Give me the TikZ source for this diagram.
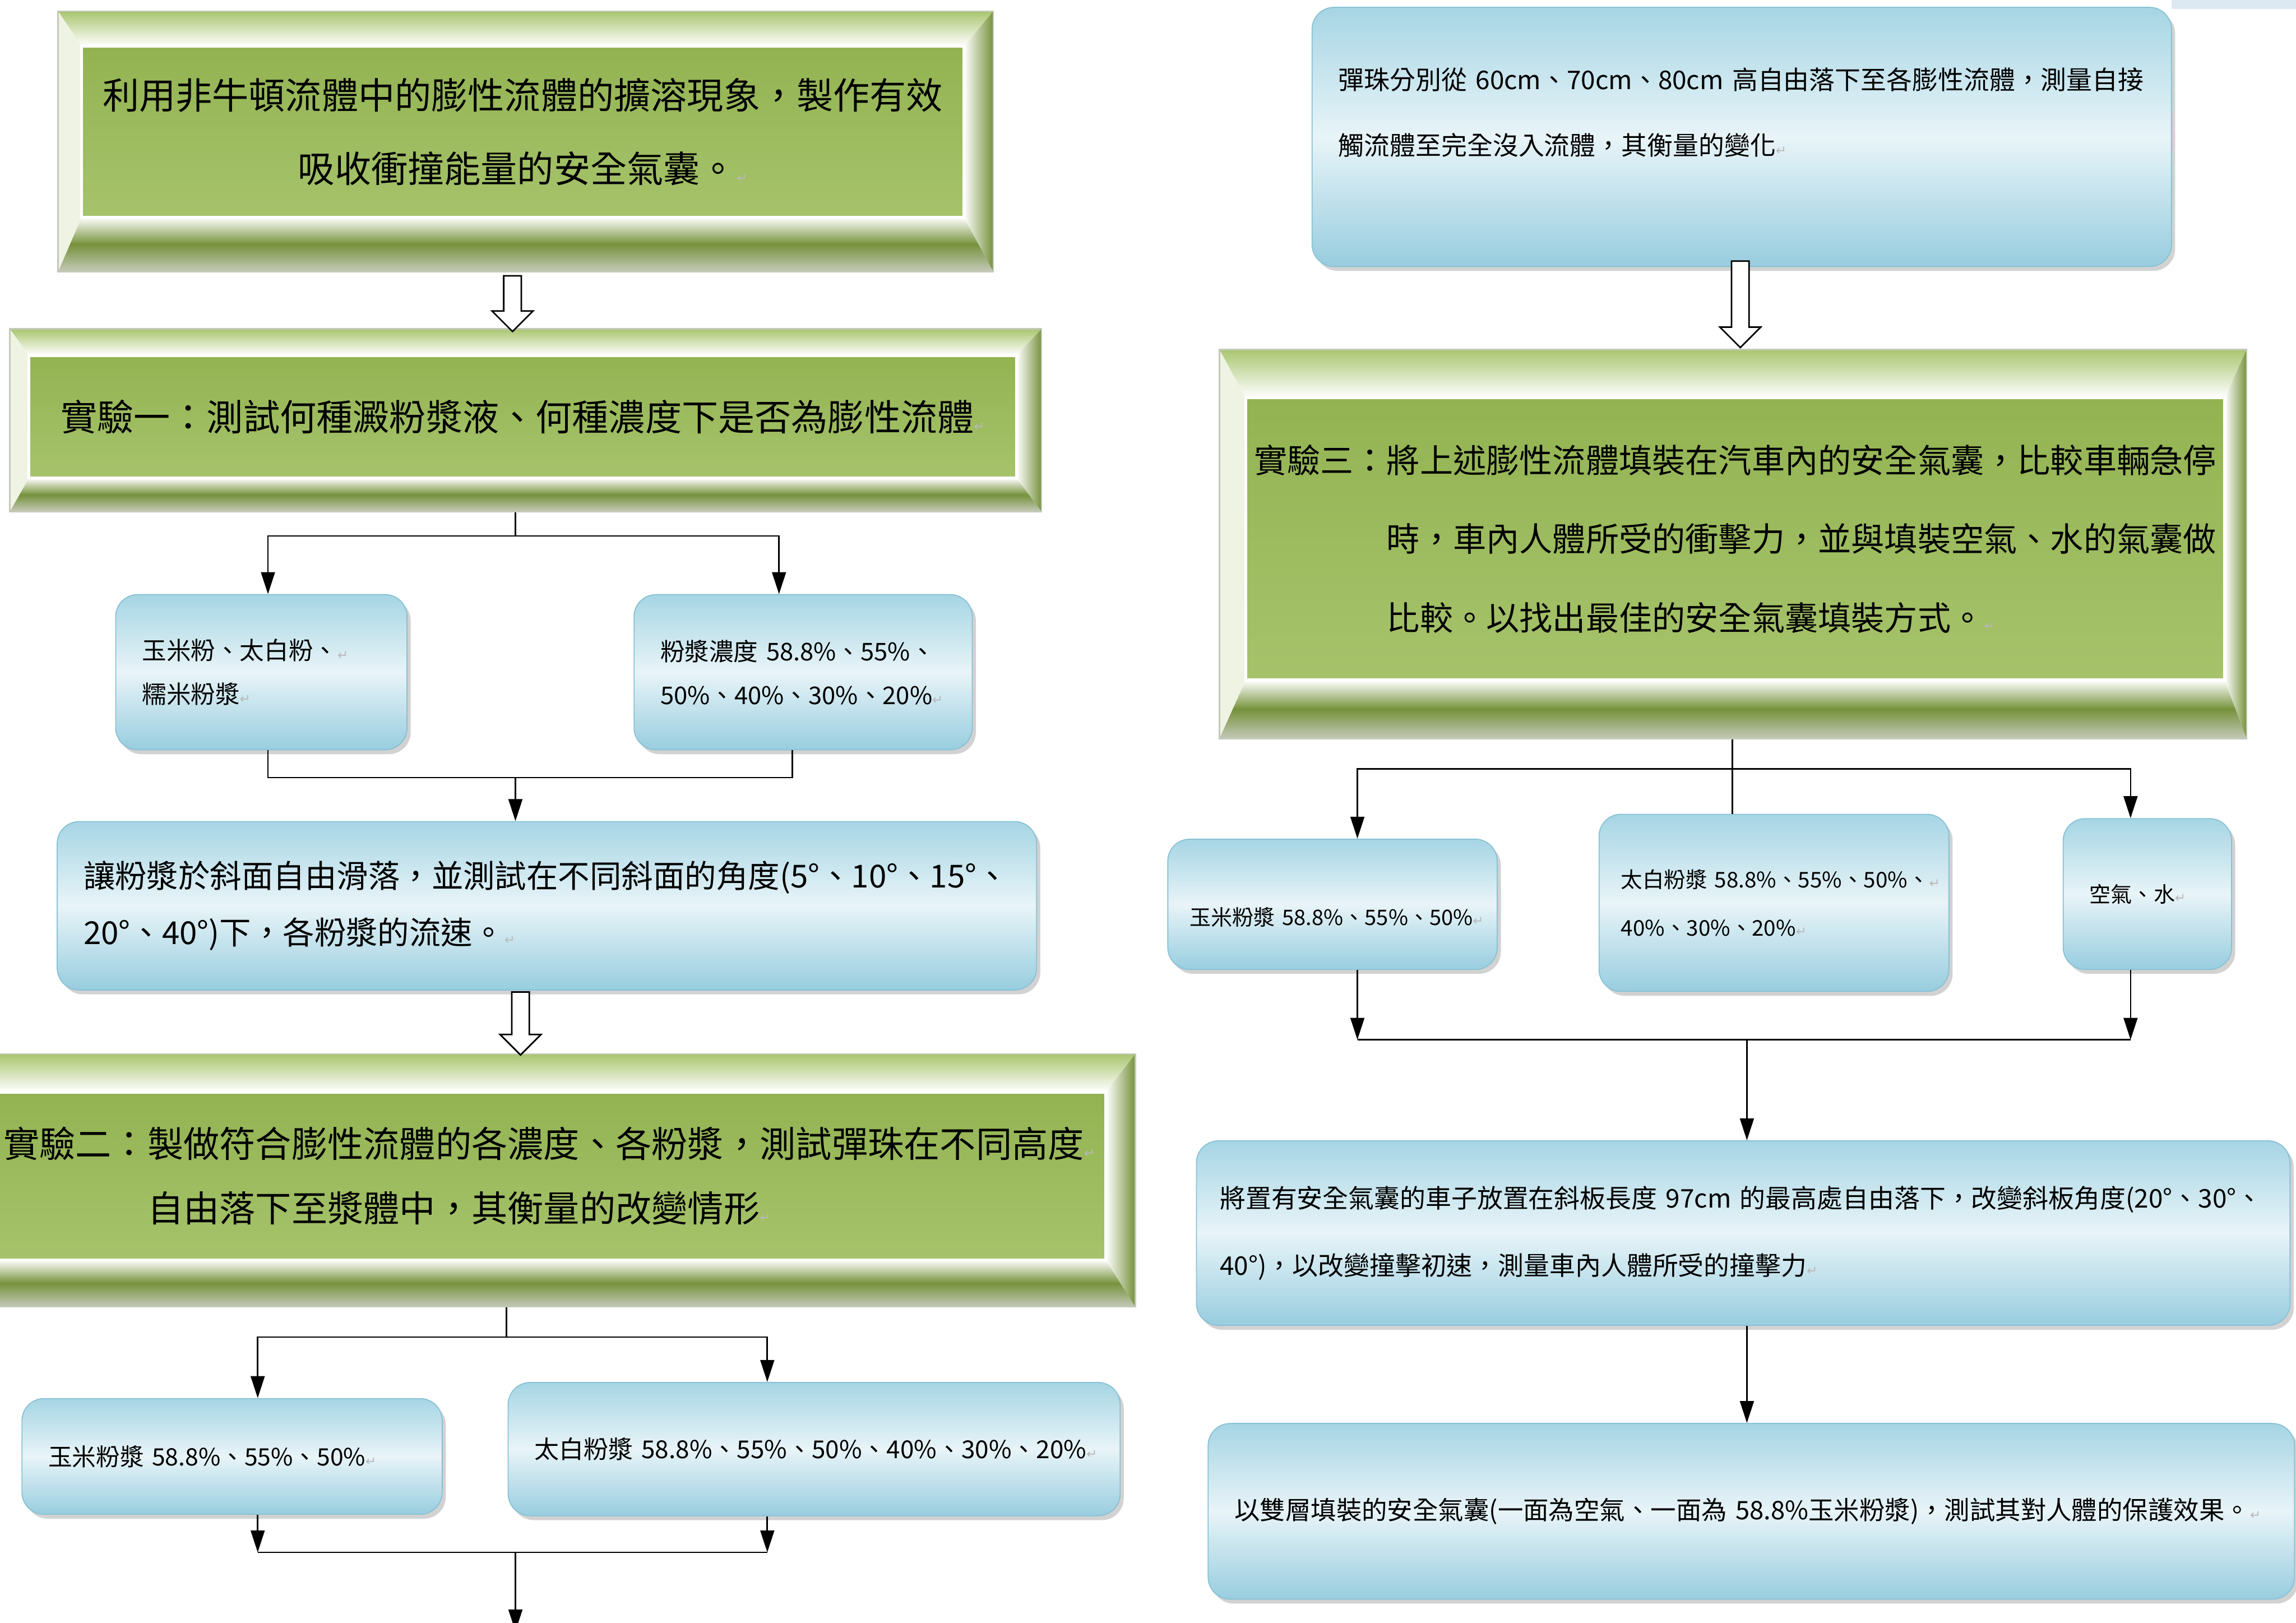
\documentclass[tikz,border=0pt]{standalone}
\usepackage{fontspec}
\setmainfont{Noto Sans CJK TC}
\newfontfamily\markfont{DejaVu Sans}
\usepackage{tikz}
\usetikzlibrary{arrows.meta,positioning,calc,shadows}

\definecolor{facetop}{HTML}{93B352}
\definecolor{facebot}{HTML}{A6C36B}
\definecolor{bevtop}{HTML}{A9C56F}
\definecolor{bevdark}{HTML}{76923C}
\definecolor{bevside}{HTML}{EEF3E3}
\definecolor{bevedge}{HTML}{C4C9B8}
\definecolor{pilltop}{HTML}{A6D5E4}
\definecolor{pillmid}{HTML}{E8F4F8}
\definecolor{pillbot}{HTML}{98CDDF}
\definecolor{pillrim}{HTML}{88C2D5}
\definecolor{stripblue}{HTML}{DCE9F3}

\newcommand\tsize[2]{\fontsize{#1}{#2}\selectfont}
% paragraph mark at the end of a line
\newcommand\pmark{{\markfont\fontsize{5pt}{5pt}\selectfont\color{gray!55}↵}}

% bevelled frame round a green face: node, left, top, right, bottom (in px units)
\newcommand\bevelframe[5]{%
  \shade[top color=bevtop, bottom color=white]
    (#1.north west) -- (#1.north east) -- ([shift={(#4,-#3)}]#1.north east)
    -- ([shift={(-#2,-#3)}]#1.north west) -- cycle;
  \shade[top color=white, bottom color=bevedge, middle color=bevdark]
    (#1.south west) -- (#1.south east) -- ([shift={(#4,#5)}]#1.south east)
    -- ([shift={(-#2,#5)}]#1.south west) -- cycle;
  \fill[bevside]
    (#1.south west) -- (#1.north west) -- ([shift={(-#2,-#3)}]#1.north west)
    -- ([shift={(-#2,#5)}]#1.south west) -- cycle;
  \shade[left color=white, right color=bevdark]
    (#1.south east) -- (#1.north east) -- ([shift={(#4,-#3)}]#1.north east)
    -- ([shift={(#4,#5)}]#1.south east) -- cycle;
  \draw[white, line width=1.2pt] (#1.north west) rectangle (#1.south east);
  \draw[bevedge, line width=0.6pt] ([shift={(-#2,-#3)}]#1.north west)
    rectangle ([shift={(#4,#5)}]#1.south east);
}

\begin{document}
\begin{tikzpicture}[
    x=0.02cm, y=-0.02cm,
    face/.style={draw=none, top color=facetop, bottom color=facebot, inner sep=0pt},
    pill/.style={rounded corners=0.3cm, draw=pillrim, line width=0.4pt,
      top color=pilltop, bottom color=pillbot, middle color=pillmid,
      drop shadow={shadow xshift=0.05cm, shadow yshift=-0.06cm, opacity=0.35},
      inner xsep=0.36cm, inner ysep=0pt, align=left},
    flow/.style={-{Triangle[length=0.3cm, width=0.19cm]}, line width=0.6pt},
    link/.style={line width=0.6pt},
    hollowdown/.pic={\draw[fill=white, line width=0.6pt] (-6,0) -- (6,0) -- (6,{#1-14})
      -- (14,{#1-14}) -- (0,#1) -- (-14,{#1-14}) -- (-6,{#1-14}) -- cycle;}
]
\useasboundingbox (0,0) rectangle (1568,1108);
\fill[white] (0,0) rectangle (1568,1108);
\fill[stripblue] (1483,0) rectangle (1568,6);

% left column
\node[face, minimum width=12.04cm, minimum height=2.32cm, align=center,
  font=\tsize{14.2pt}{28.5pt}] (aim) at (357,90)
  {利用非牛頓流體中的膨性流體的擴溶現象，製作有效\\吸收衝撞能量的安全氣囊。\pmark};
\node[face, minimum width=13.48cm, minimum height=1.66cm,
  font=\tsize{14.2pt}{20pt}] (exp1) at (357,284.5)
  {實驗一：測試何種澱粉漿液、何種濃度下是否為膨性流體\pmark};
\node[pill, text width=3.26cm, minimum height=2.12cm, font=\tsize{9.5pt}{17pt}] (starch) at (178.5,459)
  {玉米粉、太白粉、\pmark\\糯米粉漿\pmark};
\node[pill, text width=3.9cm, minimum height=2.12cm, font=\tsize{9.5pt}{17pt}] (conc) at (548.5,459)
  {粉漿濃度~58.8\%、55\%、\\50\%、40\%、30\%、20\%\pmark};
\node[pill, text width=12.66cm, minimum height=2.3cm, font=\tsize{12.3pt}{22pt}] (slope) at (373.5,618.5)
  {讓粉漿於斜面自由滑落，並測試在不同斜面的角度(5°、10°、15°、\\20°、40°)下，各粉漿的流速。\pmark};
\node[face, minimum width=15.2cm, minimum height=2.28cm, align=left,
  font=\tsize{14pt}{25pt}] (exp2) at (375,803)
  {實驗二：製做符合膨性流體的各濃度、各粉漿，測試彈珠在不同高度\pmark\\
   \phantom{實驗二：}自由落下至漿體中，其衡量的改變情形\pmark};
\node[pill, text width=5.02cm, minimum height=1.58cm, font=\tsize{9.3pt}{14pt}] (corn1) at (158.5,994.5)
  {玉米粉漿~58.8\%、55\%、50\%\pmark};
\node[pill, text width=7.64cm, minimum height=1.82cm, font=\tsize{9.6pt}{14pt}] (potato1) at (556,989.5)
  {太白粉漿~58.8\%、55\%、50\%、40\%、30\%、20\%\pmark};

% right column
\node[pill, text width=11.02cm, minimum height=3.54cm, font=\tsize{10pt}{25.6pt}] (marble) at (1189.5,93.5)
  {彈珠分別從~60cm、70cm、80cm~高自由落下至各膨性流體，測量自接\\
   觸流體至完全沒入流體，其衡量的變化\pmark\rule[-0.7cm]{0pt}{0.7cm}};
\node[face, minimum width=13.36cm, minimum height=3.84cm, align=left,
  font=\tsize{12.9pt}{30.7pt}] (exp3) at (1185,368)
  {實驗三：將上述膨性流體填裝在汽車內的安全氣囊，比較車輛急停\\
   \phantom{實驗三：}時，車內人體所受的衝擊力，並與填裝空氣、水的氣囊做\\
   \phantom{實驗三：}比較。以找出最佳的安全氣囊填裝方式。\pmark};
\node[pill, inner xsep=0.3cm, text width=3.9cm, minimum height=1.78cm, font=\tsize{8.3pt}{13pt}] (corn2) at (910,617.5)
  {\rule{0pt}{0.6cm}玉米粉漿~58.8\%、55\%、50\%\pmark};
\node[pill, inner xsep=0.3cm, text width=4.18cm, minimum height=2.42cm, font=\tsize{8.4pt}{18.8pt}] (potato2) at (1211.5,616.5)
  {太白粉漿~58.8\%、55\%、50\%、\pmark\\40\%、30\%、20\%\pmark};
\node[pill, text width=1.58cm, minimum height=2.06cm, font=\tsize{8.3pt}{13pt}] (media) at (1466.5,610.5)
  {空氣、水\pmark};
\node[pill, inner xsep=0.32cm, text width=14.3cm, minimum height=2.52cm, font=\tsize{10pt}{26pt}] (ramp) at (1190.5,842)
  {將置有安全氣囊的車子放置在斜板長度~97cm~的最高處自由落下，改變斜板角度(20°、30°、\\
   40°)，以改變撞擊初速，測量車內人體所受的撞擊力\pmark};
\node[pill, text width=14.12cm, minimum height=2.4cm, font=\tsize{9.9pt}{14pt}] (layer) at (1196,1032)
  {以雙層填裝的安全氣囊(一面為空氣、一面為~58.8\%玉米粉漿)，測試其對人體的保護效果。\pmark};

% branches of experiment one
\coordinate (s1) at (352,366);
\coordinate (m1) at (352,531);
\draw[link] (s1 |- exp1.south) -- (s1);
\draw[flow] (s1) -| ([xshift=0.09cm]starch.north);
\draw[flow] (s1) -| ([xshift=-0.33cm]conc.north);
\draw[link] ([xshift=0.09cm]starch.south) |- (m1);
\draw[link] ([xshift=-0.15cm]conc.south) |- (m1);
\draw[flow] (m1) -- (m1 |- slope.north);

% branches of experiment two
\coordinate (s2) at (346,913);
\coordinate (m2) at (352,1060);
\coordinate (out) at (352,1114);
\draw[link] (s2 |- exp2.south) -- (s2);
\draw[flow] (s2) -| ([xshift=0.35cm]corn1.north);
\draw[flow] (s2) -| ([xshift=-0.64cm]potato1.north);
\draw[flow] ([xshift=0.35cm]corn1.south) -- ([xshift=0.35cm]corn1.south |- m2);
\draw[flow] ([xshift=-0.64cm]potato1.south) -- ([xshift=-0.64cm]potato1.south |- m2);
\draw[link] ([xshift=0.35cm]corn1.south |- m2) -- ([xshift=-0.64cm]potato1.south |- m2);
\draw[flow] (m2) -- (out);

% branches of experiment three
\coordinate (s3) at (1183,525);
\coordinate (m3) at (1193,710);
\draw[link] (s3 |- exp3.south) -- (s3 |- potato2.north);
\draw[flow] (s3) -| ([xshift=0.34cm]corn2.north);
\draw[flow] (s3) -| ([xshift=-0.23cm]media.north);
\draw[flow] ([xshift=0.34cm]corn2.south) -- ([xshift=0.34cm]corn2.south |- m3);
\draw[flow] ([xshift=-0.23cm]media.south) -- ([xshift=-0.23cm]media.south |- m3);
\draw[link] ([xshift=0.34cm]corn2.south |- m3) -- ([xshift=-0.23cm]media.south |- m3);
\draw[flow] (m3) -- (m3 |- ramp.north);
\draw[flow] (m3 |- ramp.south) -- (m3 |- layer.north);

% bevels round the green boxes
\foreach \nd/\lw/\tw/\rw/\bw in {aim/16/24/20/37, exp1/13/18/17/23, exp2/20/26/20/32, exp3/18/33/15/40}
  \bevelframe{\nd}{\lw}{\tw}{\rw}{\bw};

% hollow arrows
\pic at ([shift={(-7,40)}]aim.south) {hollowdown=38};
\pic at ([shift={(-18,1)}]slope.south) {hollowdown=43};
\pic at ([shift={(-1,-4)}]marble.south) {hollowdown=59};
\end{tikzpicture}
\end{document}
